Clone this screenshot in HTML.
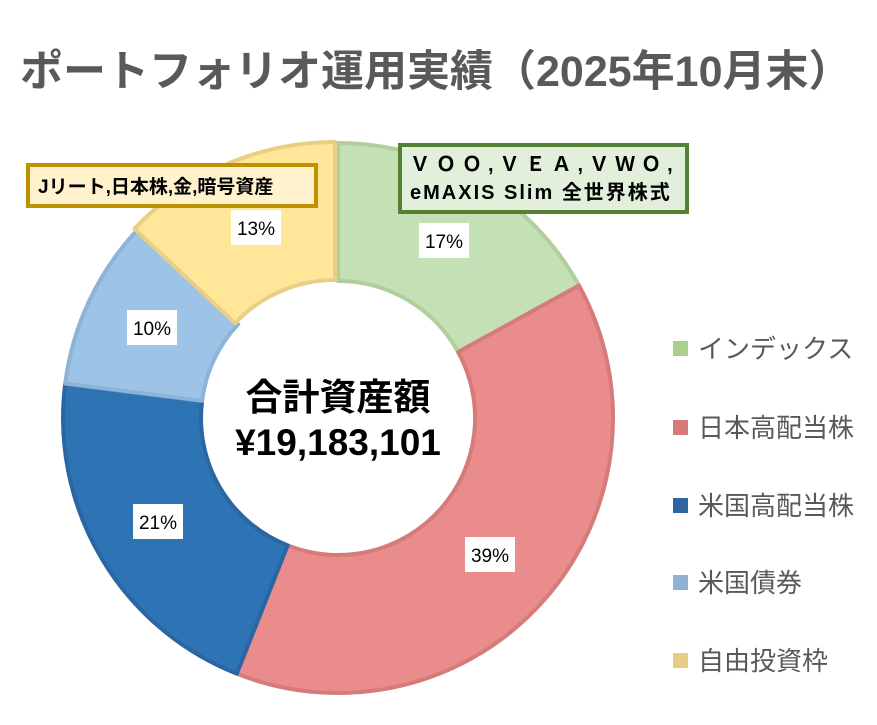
<!DOCTYPE html>
<html><head><meta charset="utf-8"><style>
html,body{margin:0;padding:0;background:#fff;}
body{width:877px;height:720px;overflow:hidden;}
text{font-family:"Liberation Sans","Noto Sans CJK JP",sans-serif;}
</style></head><body>
<svg width="877" height="720" viewBox="0 0 877 720" xmlns="http://www.w3.org/2000/svg">
<rect width="877" height="720" fill="#fff"/>
<text x="20" y="86" font-size="43" font-weight="bold" fill="#595959">ポートフォリオ運用実績（2025年10月末）</text>
<g stroke-width="4" stroke-linejoin="round">
<path d="M338,143 A275,275 0 0 1 579,285.5 L458.1,352 A137,137 0 0 0 338,281 Z" fill="#c5e0b4" stroke="#b0cf9c"/>
<path d="M579,285.5 A275,275 0 0 1 236.8,673.7 L287.6,545.4 A137,137 0 0 0 458.1,352 Z" fill="#e98c8b" stroke="#d67b7b"/>
<path d="M236.8,673.7 A275,275 0 0 1 65.2,383.5 L202.1,400.8 A137,137 0 0 0 287.6,545.4 Z" fill="#2e74b5" stroke="#2a66a3"/>
<path d="M65.2,383.5 A275,275 0 0 1 137.5,229.8 L238.1,324.2 A137,137 0 0 0 202.1,400.8 Z" fill="#9dc3e6" stroke="#8db3d8"/>
<g transform="translate(-3,-1)">
<path d="M137.5,229.8 A275,275 0 0 1 338,143 L338,281 A137,137 0 0 0 238.1,324.2 Z" fill="#ffe699" stroke="#e8cf85"/>
</g>
</g>
<g font-size="19" fill="#000" text-anchor="middle">
<rect x="419" y="223" width="50" height="35" fill="#fff"/><text x="444" y="248">17%</text>
<rect x="465" y="537" width="50" height="35" fill="#fff"/><text x="490" y="562">39%</text>
<rect x="133" y="504" width="50" height="35" fill="#fff"/><text x="158" y="529">21%</text>
<rect x="127" y="310" width="50" height="35" fill="#fff"/><text x="152" y="335">10%</text>
<rect x="231" y="210" width="50" height="35" fill="#fff"/><text x="256" y="235">13%</text>
</g>
<rect x="400" y="145" width="287" height="67" fill="#e2efda" stroke="#548235" stroke-width="4"/>
<text x="410" y="171" font-size="20" font-weight="bold" fill="#000" letter-spacing="6">ＶＯＯ,ＶＥＡ,ＶＷＯ,</text>
<text x="410" y="199" font-size="20" font-weight="bold" fill="#000" letter-spacing="2">eMAXIS Slim 全世界株式</text>
<rect x="28" y="165" width="288" height="41" fill="#fff2cc" stroke="#bf9000" stroke-width="4"/>
<text x="38" y="193" font-size="19" font-weight="bold" fill="#000">Jリート,日本株,金,暗号資産</text>
<g text-anchor="middle" font-weight="bold" font-size="37" fill="#000">
<text x="338" y="410">合計資産額</text>
<text x="338" y="455">¥19,183,101</text>
</g>
<g font-size="26" fill="#595959">
<rect x="673" y="341" width="15" height="15" fill="#a9d08e"/><text x="698" y="358">インデックス</text>
<rect x="673" y="420" width="15" height="15" fill="#d97a7a"/><text x="698" y="437">日本高配当株</text>
<rect x="673" y="498" width="15" height="15" fill="#2e65a3"/><text x="698" y="515">米国高配当株</text>
<rect x="673" y="575" width="15" height="15" fill="#8fb1d6"/><text x="698" y="592">米国債券</text>
<rect x="673" y="653" width="15" height="15" fill="#e8cc85"/><text x="698" y="670">自由投資枠</text>
</g>
</svg>
</body></html>
